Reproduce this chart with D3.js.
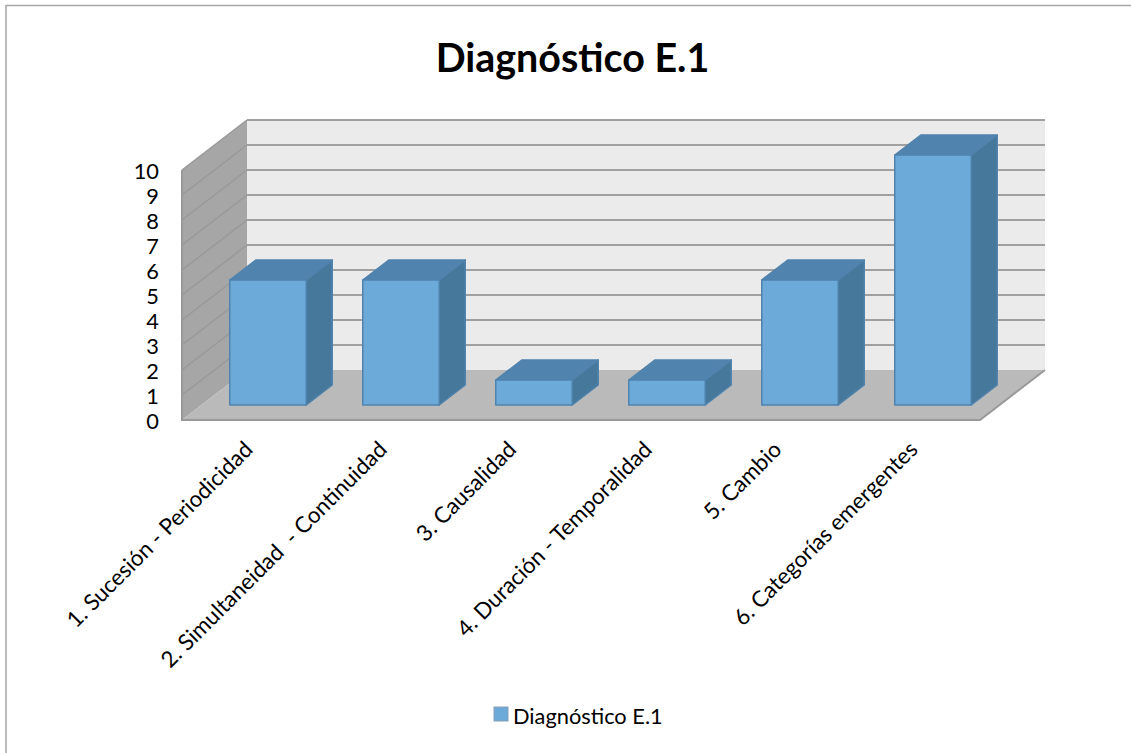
<!DOCTYPE html>
<html lang="es">
<head>
    <meta charset="utf-8">
    <title>Diagnóstico E.1</title>
    <script src="https://d3js.org/d3.v7.min.js"></script>
    <style type="text/css">
        html, body {
            margin: 0;
            padding: 0;
            background: #fff;
        }
        svg {
            display: block;
            font-family: Lato, 'Open Sans', sans-serif;
        }
        .chart-title {
            font-size: 39.4px;
            font-weight: bold;
            fill: #000;
        }
        .axis text {
            font-family: Lato, 'Open Sans', sans-serif;
            font-size: 21.8px;
            fill: #000;
        }
        .x-labels text {
            font-size: 22.4px;
        }
        .legend-label {
            font-size: 21.8px;
            fill: #000;
        }
    </style>
</head>

<body>
    <svg id="chart" width="1131" height="753"></svg>

    <script>
        var titel = "Diagnóstico E.1";
        var serie = "Diagnóstico E.1";
        var categorias = [
            "1. Sucesión - Periodicidad",
            "2. Simultaneidad  - Continuidad",
            "3. Causalidad",
            "4. Duración - Temporalidad",
            "5. Cambio",
            "6. Categorías emergentes"
        ];
        var valores = [5, 5, 1, 1, 5, 10];
        var yTicks = [0, 1, 2, 3, 4, 5, 6, 7, 8, 9, 10];

        var svg = d3.select("#chart");

        // Rahmen
        svg.append("path")
            .attr("d", "M6,753V5.5H1131")
            .attr("fill", "none")
            .attr("stroke", "#a6a6a6")
            .attr("stroke-width", 1.5);

        // Skalen: Vorderkante des Bodens
        var x = d3.scaleBand().domain(categorias).range([182, 980]).paddingInner(0).paddingOuter(0);
        var y = d3.scaleLinear().domain([0, 10]).range([420, 170]);

        // Tiefe (0 = vorne, 1 = hinten)
        var depthX = d3.scaleLinear().domain([0, 1]).range([0, 65]);
        var depthY = d3.scaleLinear().domain([0, 1]).range([0, -50]);

        // Punkt im Raum: x in Pixeln vorne, Wert, Tiefe
        function pt(px, v, t) {
            return [px + depthX(t), y(v) + depthY(t)];
        }
        var line = d3.line().curve(d3.curveLinearClosed);

        var xLeft = x.range()[0],
            xRight = x.range()[1],
            yMax = d3.max(yTicks);

        // Rückwand
        svg.append("path")
            .attr("d", line([pt(xLeft, 0, 1), pt(xRight, 0, 1), pt(xRight, yMax, 1), pt(xLeft, yMax, 1)]))
            .attr("fill", "#ebebeb");

        // Seitenwand
        svg.append("path")
            .attr("d", line([pt(xLeft, 0, 0), pt(xLeft, 0, 1), pt(xLeft, yMax, 1), pt(xLeft, yMax, 0)]))
            .attr("fill", "#a6a6a6");

        // Boden
        svg.append("path")
            .attr("d", line([pt(xLeft, 0, 0), pt(xRight, 0, 0), pt(xRight, 0, 1), pt(xLeft, 0, 1)]))
            .attr("fill", "#bababa");

        // Gitterlinien: Seitenwand dezent, Rückwand kräftiger
        var gridColor = "#a0a0a0";
        var gridTicks = yTicks.filter(function (d) { return d > 0; });
        svg.append("g").selectAll("path")
            .data(gridTicks)
            .enter().append("path")
            .attr("d", function (d) {
                return d3.line()([pt(xLeft, d, 0), pt(xLeft, d, 1)]);
            })
            .attr("fill", "none")
            .attr("stroke", "#999999")
            .attr("stroke-width", 1.5);
        svg.append("g").selectAll("path")
            .data(gridTicks)
            .enter().append("path")
            .attr("d", function (d) {
                return d3.line()([pt(xLeft, d, 1), pt(xRight, d, 1)]);
            })
            .attr("fill", "none")
            .attr("stroke", gridColor)
            .attr("stroke-width", 2);

        // Kanten des Bodens und der linken Wand
        svg.append("path")
            .attr("d", d3.line()([pt(xLeft, yMax, 0), pt(xLeft, 0, 0), pt(xRight, 0, 0), pt(xRight, 0, 1)]))
            .attr("fill", "none")
            .attr("stroke", "#999999")
            .attr("stroke-width", 2);

        // Säulen
        var frontT = 0.3, backT = 0.7;
        var barWidth = x.bandwidth() * 0.575;
        var barStroke = "#5083ad";

        var bars = svg.append("g").selectAll("g")
            .data(categorias.map(function (c, i) { return { name: c, value: valores[i] }; }))
            .enter().append("g");

        function barX(d) {
            return x(d.name) + (x.bandwidth() - barWidth) / 2;
        }

        bars.append("path") // Seite
            .attr("d", function (d) {
                var r = barX(d) + barWidth;
                return line([pt(r, 0, frontT), pt(r, 0, backT), pt(r, d.value, backT), pt(r, d.value, frontT)]);
            })
            .attr("fill", "#46789b")
            .attr("stroke", barStroke)
            .attr("stroke-width", 1.5)
            .attr("stroke-linejoin", "round");

        bars.append("path") // Deckel
            .attr("d", function (d) {
                var l = barX(d), r = l + barWidth;
                return line([pt(l, d.value, frontT), pt(r, d.value, frontT), pt(r, d.value, backT), pt(l, d.value, backT)]);
            })
            .attr("fill", "#5083ae")
            .attr("stroke", barStroke)
            .attr("stroke-width", 1.5)
            .attr("stroke-linejoin", "round");

        bars.append("path") // Front
            .attr("d", function (d) {
                var l = barX(d), r = l + barWidth;
                return line([pt(l, 0, frontT), pt(r, 0, frontT), pt(r, d.value, frontT), pt(l, d.value, frontT)]);
            })
            .attr("fill", "#6baad9")
            .attr("stroke", barStroke)
            .attr("stroke-width", 1.5)
            .attr("stroke-linejoin", "round");

        // Y-Achse
        var yAxis = d3.axisLeft(y).tickValues(yTicks).tickSize(0).tickPadding(23);
        var gy = svg.append("g")
            .attr("class", "axis")
            .attr("transform", "translate(182,1.5)")
            .call(yAxis);
        gy.select(".domain").remove();

        // X-Achse, Beschriftung 45 Grad
        var xAxis = d3.axisBottom(x).tickSize(0);
        var gx = svg.append("g")
            .attr("class", "axis x-labels")
            .attr("transform", "translate(0,420)")
            .call(xAxis);
        gx.select(".domain").remove();
        gx.selectAll("text")
            .attr("xml:space", "preserve")
            .style("white-space", "pre")
            .attr("text-anchor", "end")
            .attr("dy", 0)
            .attr("y", 0)
            .attr("transform", function () {
                // kurze Labels sitzen im Original etwas weiter links
                var shift = (this.getComputedTextLength() - 220) * 0.02;
                return "translate(" + (5 + shift) + ",31) rotate(-45)";
            });

        // Titel
        svg.append("text")
            .attr("class", "chart-title")
            .attr("x", 572.5)
            .attr("y", 72)
            .attr("text-anchor", "middle")
            .text(titel);

        // Legende
        var legend = svg.append("g").attr("transform", "translate(494,707)");
        legend.append("rect")
            .attr("width", 14)
            .attr("height", 14)
            .attr("fill", "#6baad9")
            .attr("stroke", "#8a9fb3")
            .attr("stroke-width", 1);
        legend.append("text")
            .attr("class", "legend-label")
            .attr("x", 19)
            .attr("y", 17)
            .text(serie);
    </script>
</body>
</html>
